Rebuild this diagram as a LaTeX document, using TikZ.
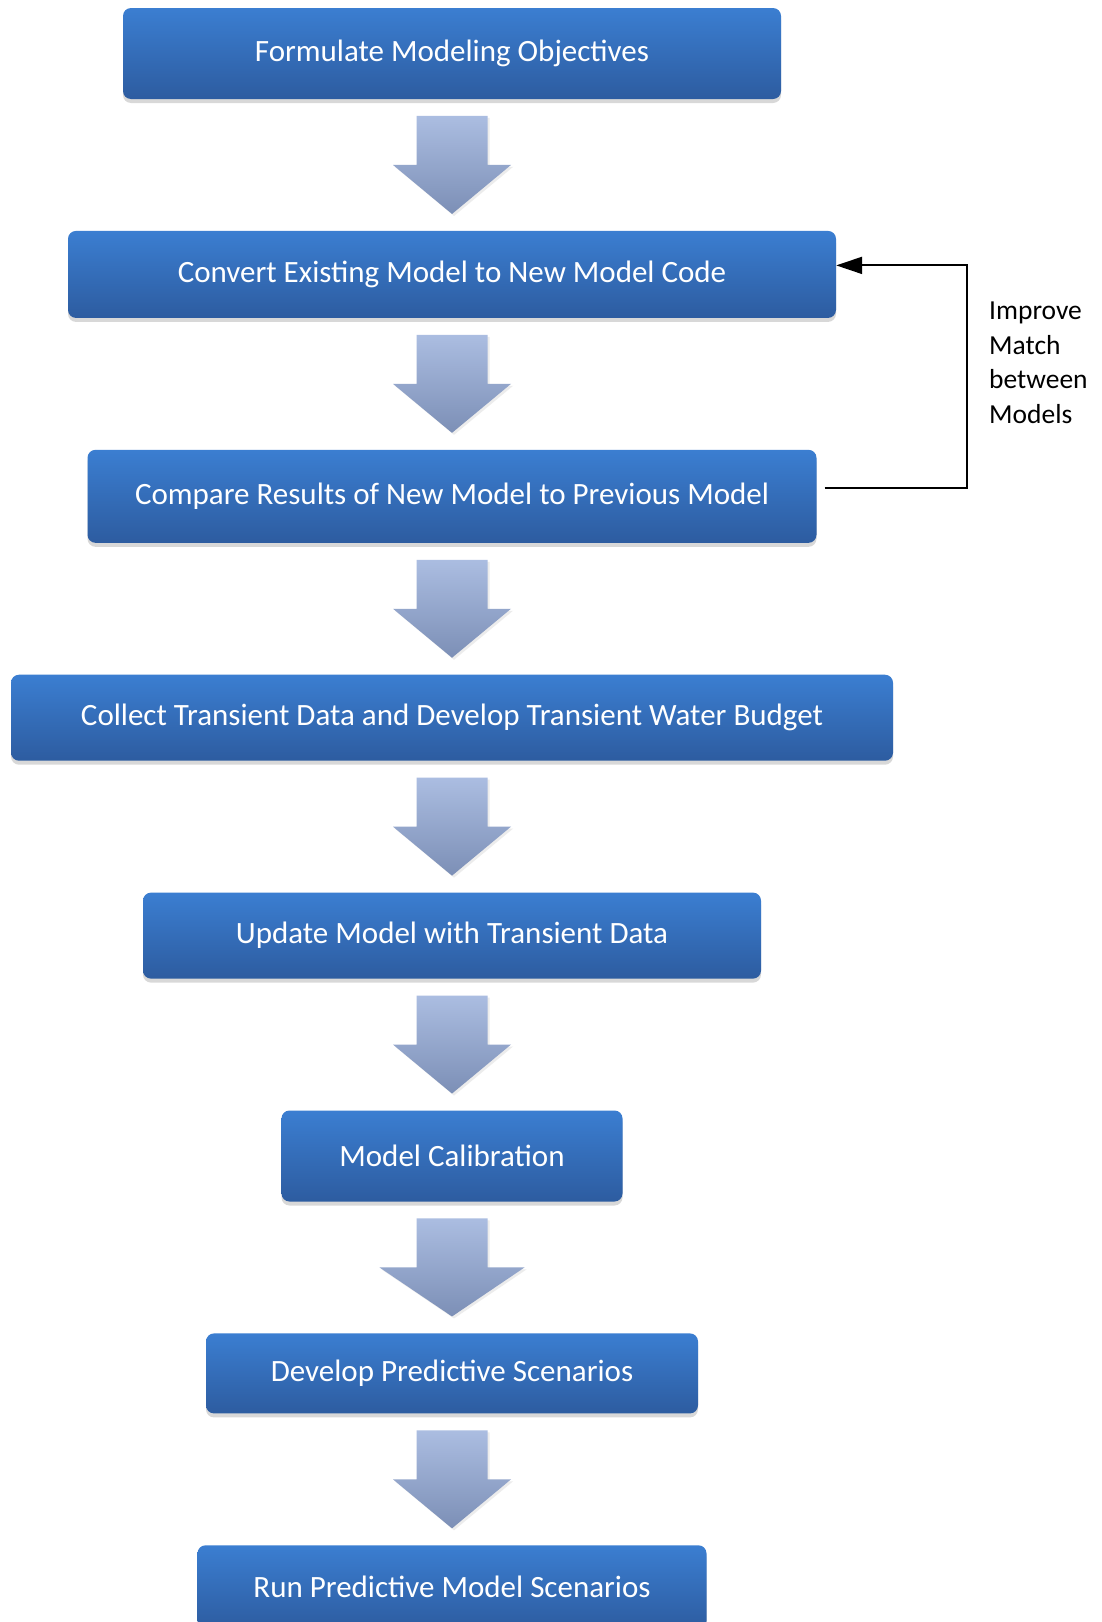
\documentclass[tikz,border=0pt]{standalone}
\usepackage{fontspec}
\setmainfont{Carlito}
\usetikzlibrary{arrows.meta,positioning,calc}
\usetikzlibrary{shadows}
\definecolor{boxtop}{RGB}{59,126,209}
\definecolor{boxbot}{RGB}{45,92,160}
\definecolor{arrtop}{RGB}{171,189,225}
\definecolor{arrbot}{RGB}{124,143,182}
\tikzset{
	%Define standard arrow tip
	>={Triangle[length=26pt,width=17pt]},
	%Define style for the step boxes
	stepbox/.style={
		rectangle,
		rounded corners=8pt,
		top color=boxtop, bottom color=boxbot,
		text=white,
		font=\fontsize{31}{37}\selectfont,
		minimum height=87pt,
		inner sep=0pt,
		drop shadow={opacity=0.3, shadow xshift=0pt, shadow yshift=-4pt}},
	% Define style for the big down arrows
	flowarrow/.style={
		top color=arrtop, bottom color=arrbot,
		drop shadow={opacity=0.15, shadow xshift=2pt, shadow yshift=-2pt}},
	% Define feedback line style
	loopline/.style={
		->,
		line width=2pt},
	% Define side note style
	note/.style={
		align=left,
		inner sep=0pt,
		font=\fontsize{27.5}{34.5}\selectfont}
}
% big down arrow between two steps: [head half width]{upper}{lower}
\newcommand{\flowstep}[3][59]{%
	\coordinate (m) at ($(#2.south)!0.5!(#3.north)$);
	\path[flowarrow] ([shift={(-35.5,-49)}]m) -- ([shift={(35.5,-49)}]m) -- ([shift={(35.5,0)}]m)
		-- ([shift={(#1,0)}]m) -- ([shift={(0,49)}]m) -- ([shift={(-#1,0)}]m) -- ([shift={(-35.5,0)}]m) -- cycle;
}

\begin{document}
\begin{tikzpicture}[x=1pt, y=-1pt, node distance=131.5pt]
	\useasboundingbox[fill=white] (0,0) rectangle (1102,1622);
	
	\node[stepbox, minimum width=658pt, minimum height=91pt] (objectives) at (452,53.5) {Formulate Modeling Objectives};
	\node[stepbox, minimum width=768pt, below=of objectives] (convert) {Convert Existing Model to New Model Code};
	\node[stepbox, minimum width=729pt, minimum height=93pt, below=of convert] (compare) {Compare Results of New Model to Previous Model};
	\node[stepbox, minimum width=882pt, minimum height=86pt, below=of compare] (collect) {Collect Transient Data and Develop Transient Water Budget};
	\node[stepbox, minimum width=618pt, minimum height=86pt, below=of collect] (update) {Update Model with Transient Data};
	\node[stepbox, minimum width=341pt, minimum height=91pt, below=of update] (calib) {Model Calibration};
	\node[stepbox, minimum width=492pt, minimum height=80pt, below=of calib] (predict) {Develop Predictive Scenarios};
	\node[stepbox, minimum width=509pt, minimum height=84pt, below=of predict] (run) {Run Predictive Model Scenarios};
	
	\foreach \a/\b/\h in {objectives/convert/59, convert/compare/59, compare/collect/59, collect/update/59,
		update/calib/59, calib/predict/72.5, predict/run/59}
		\flowstep[\h]{\a}{\b};
	
	% feedback loop
	\draw[loopline] ([xshift=8pt,yshift=8.5pt]compare.east) -- ++(142,0) |- ([yshift=9pt]convert.east);
	\node[note, anchor=north west] (improve) at (989,302) {Improve\\Match\\between\\Models};
	
\end{tikzpicture}
\end{document}
